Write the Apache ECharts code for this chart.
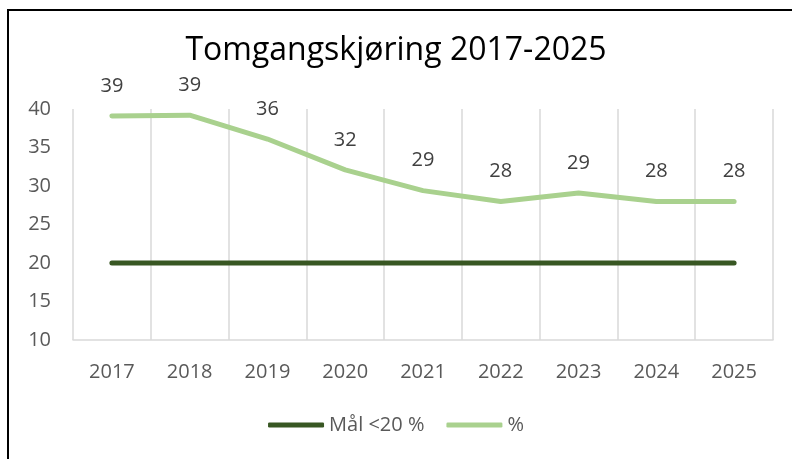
<!DOCTYPE html>
<html>
<head>
<meta charset="utf-8">
<script src="https://cdn.jsdelivr.net/npm/echarts@6/dist/echarts.min.js"></script>
<style>
html, body { margin: 0; padding: 0; background: #fff; }
#chart { width: 792px; height: 459px; }
</style>
</head>
<body>
<div id="chart"></div>
<script>
// år på x-aksen
var years = ['2017', '2018', '2019', '2020', '2021', '2022', '2023', '2024', '2025'];
// mål-linje (<20 %)
var goalValues = [20, 20, 20, 20, 20, 20, 20, 20, 20];
// andel tomgangskjøring i %
var idleValues = [39.1, 39.2, 36.1, 32.1, 29.4, 28.0, 29.1, 28.0, 28.0];
var idleLabels = ['39', '39', '36', '32', '29', '28', '29', '28', '28'];

var fontName = 'Open Sans';
var myChart = echarts.init(document.getElementById('chart'));

var option = {
    animation: false,
    backgroundColor: '#fff',
    title: {
        text: 'Tomgangskjøring 2017-2025',
        left: 'center',
        top: 30,
        textStyle: { fontFamily: fontName, fontSize: 32, fontWeight: 'normal', color: '#000' }
    },
    graphic: [{
        type: 'rect',
        shape: { x: 8, y: 10, width: 820, height: 480 },
        style: { fill: 'none', stroke: '#000', lineWidth: 2 },
        silent: true
    }],
    legend: {
        bottom: 19,
        left: 'center',
        itemWidth: 56,
        itemHeight: 5,
        itemGap: 22,
        icon: 'roundRect',
        textStyle: { fontFamily: fontName, fontSize: 20, color: '#595959' },
        data: ['Mål <20 %', '%']
    },
    grid: { left: 73, right: 19, top: 109, bottom: 119 },
    xAxis: {
        type: 'category',
        data: years,
        boundaryGap: true,
        axisLine: { lineStyle: { color: '#d9d9d9', width: 1.5 } },
        axisTick: { show: false },
        splitLine: { show: true, lineStyle: { color: '#d9d9d9', width: 1.5 } },
        axisLabel: { fontFamily: fontName, fontSize: 20, color: '#595959', margin: 22 }
    },
    yAxis: {
        type: 'value',
        min: 10,
        max: 40,
        interval: 5,
        axisLine: { show: false },
        axisTick: { show: false },
        splitLine: { show: false },
        axisLabel: { fontFamily: fontName, fontSize: 20, color: '#595959', margin: 22 }
    },
    series: [{
        name: 'Mål <20 %',
        type: 'line',
        data: goalValues,
        symbol: 'none',
        itemStyle: { color: '#385723' },
        lineStyle: { color: '#385723', width: 5, cap: 'round' }
    }, {
        name: '%',
        type: 'line',
        data: idleValues,
        symbol: 'circle',
        symbolSize: 0,
        itemStyle: { color: '#a9d18e' },
        lineStyle: { color: '#a9d18e', width: 5, cap: 'round', join: 'round' },
        label: {
            show: true,
            position: 'top',
            distance: 20,
            fontFamily: fontName,
            fontSize: 20,
            color: '#404040',
            formatter: function (p) { return idleLabels[p.dataIndex]; }
        }
    }]
};
myChart.setOption(option);
</script>
</body>
</html>
